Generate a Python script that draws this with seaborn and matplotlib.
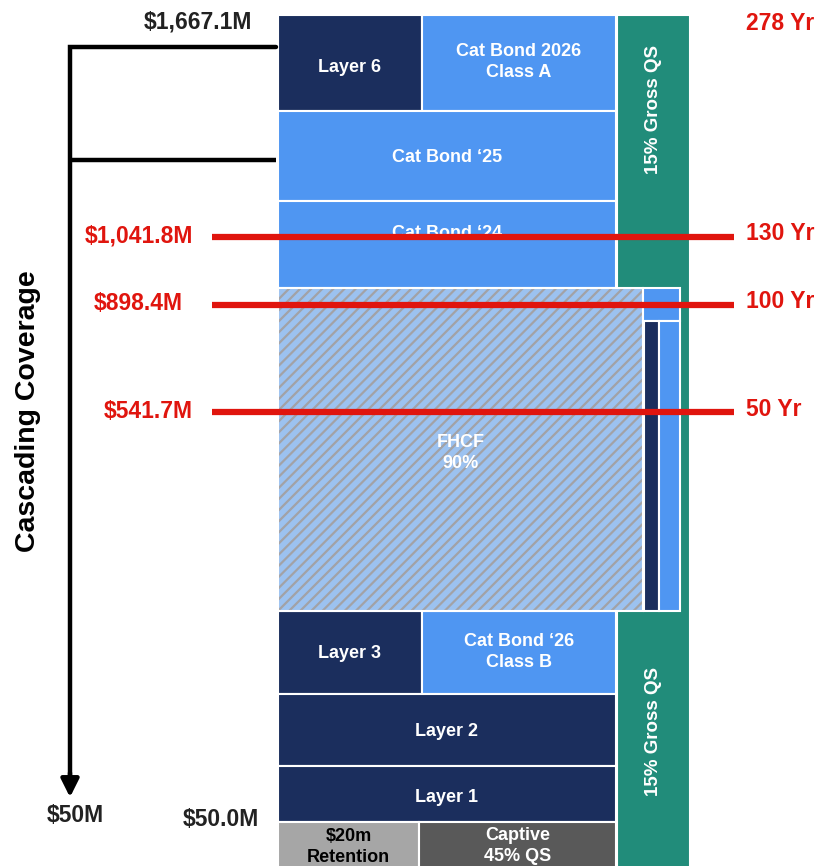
"""
Reinsurance tower - cascading coverage
"""

import matplotlib
matplotlib.use("Agg")
import matplotlib.pyplot as plt
import seaborn as sns

# ---- data (tower units: 0 = top of canvas, grows downward) ----
layer_names = ["Layer 6", "Cat Bond 2026\nClass A", "Cat Bond \u201825", "Cat Bond \u201824",
               "Layer 3", "Cat Bond \u201826\nClass B", "Layer 2", "Layer 1",
               "$20m\nRetention", "Captive\n45% QS"]
layer_x0 = [278, 422, 278, 278, 278, 422, 278, 278, 278, 419]
layer_x1 = [422, 616, 616, 616, 422, 616, 616, 616, 419, 616]
layer_top = [15, 15, 110.5, 200.5, 611, 611, 693.5, 765.5, 822, 822]
layer_bot = [110.5, 110.5, 200.5, 288, 693.5, 693.5, 765.5, 822, 870, 870]
layer_kind = ["navy", "blue", "blue", "blue", "navy", "blue", "navy", "navy", "ret", "cap"]
label_y = [68, 62, 157, 234, 654, 652, 732, 797, 847, 846]

qs_label = "15% Gross QS"
qs_x = [617, 690]
qs_span = [15, 870]
qs_label_y = [110, 732]

fhcf_label = "FHCF\n90%"
fhcf_x = [278, 643.5]
fhcf_span = [288, 611]
side_x0 = [643.5, 644.5, 659]
side_x1 = [680, 659, 680]
side_top = [288, 321, 321]
side_bot = [321, 611, 611]
side_kind = ["blue", "navy", "blue"]

return_periods = ["130 Yr", "100 Yr", "50 Yr"]
rp_losses = ["$1,041.8M", "$898.4M", "$541.7M"]
rp_pos = [237, 305, 412]
top_rp = "278 Yr"
top_loss = "$1,667.1M"
attach_label = "$50.0M"
arrow_end_label = "$50M"

colors = {"navy": "#1B2E5D", "blue": "#4F96F2", "green": "#218C7A",
          "ret": "#A6A6A6", "cap": "#595959", "hatch_bg": "#9CC2F0",
          "hatch": "#A2A2A6", "red": "#E0150E"}

sns.set_theme(style="white")
plt.rcParams["font.family"] = ["Liberation Sans", "DejaVu Sans"]
plt.rcParams["hatch.linewidth"] = 1.6

fig = plt.figure(figsize=(8.23, 8.66), dpi=100)
ax = fig.add_axes([0, 0, 1, 1])
ax.set_xlim(0, 823)
ax.set_ylim(866, 0)
ax.axis("off")

# green quota share column (behind)
ax.bar((qs_x[0] + qs_x[1]) / 2, qs_span[1] - qs_span[0], width=qs_x[1] - qs_x[0],
       bottom=qs_span[0], color=colors["green"], edgecolor="white", linewidth=1.5, zorder=1)
for yy in qs_label_y:
    ax.text((qs_x[0] + qs_x[1]) / 2, yy, qs_label, rotation=90, ha="center", va="center",
            color="white", fontsize=13.5, fontweight="bold", zorder=5)

# main layers
for name, x0, x1, t, b, k, ly in zip(layer_names, layer_x0, layer_x1, layer_top,
                                      layer_bot, layer_kind, label_y):
    ax.bar((x0 + x1) / 2, b - t, width=x1 - x0, bottom=t, color=colors[k],
           edgecolor="white", linewidth=1.5, zorder=2)
    tc = "black" if k == "ret" else "white"
    ax.text((x0 + x1) / 2, ly, name, ha="center", va="center", color=tc,
            fontsize=13, fontweight="bold", linespacing=1.3, zorder=5)

# FHCF hatched block
ax.bar((fhcf_x[0] + fhcf_x[1]) / 2, fhcf_span[1] - fhcf_span[0], width=fhcf_x[1] - fhcf_x[0],
       bottom=fhcf_span[0], color=colors["hatch_bg"], edgecolor=colors["hatch"],
       hatch="///", linewidth=0, zorder=2)
ax.bar((fhcf_x[0] + fhcf_x[1]) / 2, fhcf_span[1] - fhcf_span[0], width=fhcf_x[1] - fhcf_x[0],
       bottom=fhcf_span[0], fill=False, edgecolor="white", linewidth=1.5, zorder=3)
ax.text((fhcf_x[0] + fhcf_x[1]) / 2, 453, fhcf_label, ha="center", va="center",
        color="white", fontsize=13, fontweight="bold", linespacing=1.3, zorder=5)
for x0, x1, t, b, k in zip(side_x0, side_x1, side_top, side_bot, side_kind):
    ax.bar((x0 + x1) / 2, b - t, width=x1 - x0, bottom=t, color=colors[k],
           edgecolor="white", linewidth=1.5, zorder=3)

# return period lines
for rp, loss, yy in zip(return_periods, rp_losses, rp_pos):
    ax.hlines(yy, 212, 734, color=colors["red"], linewidth=4.5, zorder=6)
    ax.text(193 if loss != "$898.4M" else 183, yy - 1, loss, ha="right", va="center",
            color=colors["red"], fontsize=16.5, fontweight="bold")
    ax.text(746, yy - 3, rp, ha="left", va="center", color=colors["red"],
            fontsize=16.5, fontweight="bold")
ax.text(746, 24, top_rp, ha="left", va="center", color=colors["red"],
        fontsize=16.5, fontweight="bold")

# cascading arrow
ax.plot([276, 70, 70], [47, 47, 785], color="black", linewidth=3.2,
        solid_joinstyle="miter", zorder=4)
ax.hlines(160, 70, 276, color="black", linewidth=3.2, zorder=4)
ax.annotate("", xy=(70, 800), xytext=(70, 770),
            arrowprops=dict(arrowstyle="-|>,head_length=0.9,head_width=0.45",
                            color="black", lw=3.2))
ax.text(198, 22, top_loss, ha="center", va="center", color="#222222",
        fontsize=16.5, fontweight="bold")
ax.text(75, 816, arrow_end_label, ha="center", va="center", color="#222222",
        fontsize=16.5, fontweight="bold")
ax.text(259, 820, attach_label, ha="right", va="center", color="#222222",
        fontsize=16.5, fontweight="bold")
ax.text(28, 411, "Cascading Coverage", rotation=90, ha="center", va="center",
        color="black", fontsize=20.5, fontweight="bold")

fig.savefig("out.png", dpi=100)
